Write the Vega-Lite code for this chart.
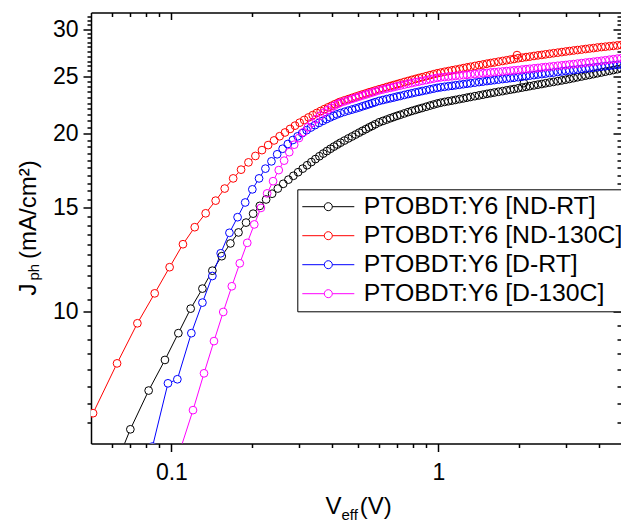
{
"$schema":"https://vega.github.io/schema/vega-lite/v6.json",
"width":530,"height":431,
"autosize":{"type":"none"},
"padding":{"left":91,"top":12.5,"right":0,"bottom":77},
"background":"white",
"config":{"font":"Liberation Sans","view":{"stroke":null},
 "axis":{"grid":false,"domainColor":"black","tickColor":"black","labelColor":"black","titleColor":"black","domainWidth":1.5,"tickWidth":1.5,"labelFontSize":23,"titleFontSize":24,"titleFontWeight":"normal","labelFont":"Liberation Sans","titleFont":"Liberation Sans"}},
"data":{"values":[
{"s":"ND-RT","v":0.0582,"j":5.15},{"s":"ND-RT","v":0.0702,"j":6.34},{"s":"ND-RT","v":0.0822,"j":7.37},{"s":"ND-RT","v":0.0946,"j":8.3},{"s":"ND-RT","v":0.1062,"j":9.21},{"s":"ND-RT","v":0.1181,"j":10.13},{"s":"ND-RT","v":0.1307,"j":10.95},{"s":"ND-RT","v":0.1424,"j":11.74},{"s":"ND-RT","v":0.1544,"j":12.42},{"s":"ND-RT","v":0.1664,"j":13.05},{"s":"ND-RT","v":0.1784,"j":13.62},{"s":"ND-RT","v":0.1904,"j":14.15},{"s":"ND-RT","v":0.2024,"j":14.65},{"s":"ND-RT","v":0.2144,"j":15.1},{"s":"ND-RT","v":0.2264,"j":15.48},{"s":"ND-RT","v":0.2384,"j":15.83},{"s":"ND-RT","v":0.2504,"j":16.15},{"s":"ND-RT","v":0.2624,"j":16.45},{"s":"ND-RT","v":0.2744,"j":16.72},{"s":"ND-RT","v":0.2864,"j":16.97},{"s":"ND-RT","v":0.2984,"j":17.21},{"s":"ND-RT","v":0.3104,"j":17.45},{"s":"ND-RT","v":0.3224,"j":17.68},{"s":"ND-RT","v":0.3344,"j":17.9},{"s":"ND-RT","v":0.3464,"j":18.11},{"s":"ND-RT","v":0.3584,"j":18.31},{"s":"ND-RT","v":0.3704,"j":18.5},{"s":"ND-RT","v":0.3824,"j":18.68},{"s":"ND-RT","v":0.3944,"j":18.85},{"s":"ND-RT","v":0.4064,"j":19.01},{"s":"ND-RT","v":0.4184,"j":19.16},
{"s":"ND-RT","v":0.43,"j":19.3},{"s":"ND-RT","v":0.445,"j":19.46},{"s":"ND-RT","v":0.46,"j":19.62},{"s":"ND-RT","v":0.475,"j":19.77},{"s":"ND-RT","v":0.49,"j":19.92},{"s":"ND-RT","v":0.505,"j":20.07},{"s":"ND-RT","v":0.52,"j":20.21},{"s":"ND-RT","v":0.535,"j":20.34},{"s":"ND-RT","v":0.55,"j":20.48},{"s":"ND-RT","v":0.565,"j":20.6},{"s":"ND-RT","v":0.58,"j":20.73},{"s":"ND-RT","v":0.6,"j":20.89},{"s":"ND-RT","v":0.62,"j":21.0},{"s":"ND-RT","v":0.64,"j":21.11},{"s":"ND-RT","v":0.66,"j":21.22},{"s":"ND-RT","v":0.68,"j":21.32},{"s":"ND-RT","v":0.7,"j":21.42},{"s":"ND-RT","v":0.72,"j":21.51},{"s":"ND-RT","v":0.745,"j":21.62},{"s":"ND-RT","v":0.77,"j":21.73},{"s":"ND-RT","v":0.795,"j":21.83},{"s":"ND-RT","v":0.82,"j":21.92},{"s":"ND-RT","v":0.845,"j":22.01},{"s":"ND-RT","v":0.87,"j":22.09},{"s":"ND-RT","v":0.9,"j":22.19},{"s":"ND-RT","v":0.93,"j":22.29},{"s":"ND-RT","v":0.96,"j":22.38},{"s":"ND-RT","v":0.99,"j":22.47},{"s":"ND-RT","v":1.02,"j":22.54},{"s":"ND-RT","v":1.055,"j":22.61},{"s":"ND-RT","v":1.09,"j":22.67},{"s":"ND-RT","v":1.125,"j":22.73},{"s":"ND-RT","v":1.16,"j":22.79},{"s":"ND-RT","v":1.2,"j":22.86},{"s":"ND-RT","v":1.24,"j":22.92},{"s":"ND-RT","v":1.28,"j":22.99},{"s":"ND-RT","v":1.32,"j":23.05},{"s":"ND-RT","v":1.37,"j":23.12},{"s":"ND-RT","v":1.42,"j":23.19},{"s":"ND-RT","v":1.47,"j":23.26},{"s":"ND-RT","v":1.52,"j":23.33},{"s":"ND-RT","v":1.57,"j":23.39},{"s":"ND-RT","v":1.62,"j":23.45},{"s":"ND-RT","v":1.68,"j":23.52},{"s":"ND-RT","v":1.74,"j":23.58},{"s":"ND-RT","v":1.8,"j":23.65},{"s":"ND-RT","v":1.86,"j":23.71},{"s":"ND-RT","v":1.92,"j":23.77},{"s":"ND-RT","v":1.99,"j":23.84},{"s":"ND-RT","v":2.06,"j":23.91},{"s":"ND-RT","v":2.09,"j":24.32},{"s":"ND-RT","v":2.13,"j":23.97},{"s":"ND-RT","v":2.2,"j":24.04},{"s":"ND-RT","v":2.28,"j":24.11},{"s":"ND-RT","v":2.36,"j":24.18},{"s":"ND-RT","v":2.44,"j":24.24},{"s":"ND-RT","v":2.52,"j":24.31},{"s":"ND-RT","v":2.61,"j":24.38},{"s":"ND-RT","v":2.7,"j":24.44},{"s":"ND-RT","v":2.8,"j":24.51},{"s":"ND-RT","v":2.9,"j":24.58},{"s":"ND-RT","v":3.0,"j":24.65},{"s":"ND-RT","v":3.1,"j":24.72},{"s":"ND-RT","v":3.21,"j":24.8},{"s":"ND-RT","v":3.32,"j":24.88},{"s":"ND-RT","v":3.44,"j":24.96},{"s":"ND-RT","v":3.56,"j":25.04},{"s":"ND-RT","v":3.68,"j":25.11},{"s":"ND-RT","v":3.81,"j":25.19},{"s":"ND-RT","v":3.94,"j":25.27},{"s":"ND-RT","v":4.08,"j":25.35},{"s":"ND-RT","v":4.22,"j":25.43},{"s":"ND-RT","v":4.37,"j":25.51},{"s":"ND-RT","v":4.52,"j":25.59},{"s":"ND-RT","v":4.68,"j":25.67},{"s":"ND-RT","v":4.84,"j":25.75},
{"s":"ND-130C","v":0.0389,"j":5.25},{"s":"ND-130C","v":0.0509,"j":6.75},{"s":"ND-130C","v":0.0626,"j":8.19},{"s":"ND-130C","v":0.0746,"j":9.57},{"s":"ND-130C","v":0.0866,"j":10.75},{"s":"ND-130C","v":0.0985,"j":11.9},{"s":"ND-130C","v":0.1105,"j":13.01},{"s":"ND-130C","v":0.1223,"j":13.9},{"s":"ND-130C","v":0.1344,"j":14.67},{"s":"ND-130C","v":0.1465,"j":15.41},{"s":"ND-130C","v":0.1584,"j":16.15},{"s":"ND-130C","v":0.1704,"j":16.8},{"s":"ND-130C","v":0.1824,"j":17.38},{"s":"ND-130C","v":0.1944,"j":17.88},{"s":"ND-130C","v":0.2064,"j":18.33},{"s":"ND-130C","v":0.2184,"j":18.75},{"s":"ND-130C","v":0.2304,"j":19.12},{"s":"ND-130C","v":0.2424,"j":19.47},{"s":"ND-130C","v":0.2544,"j":19.79},{"s":"ND-130C","v":0.2664,"j":20.08},{"s":"ND-130C","v":0.2784,"j":20.36},{"s":"ND-130C","v":0.2904,"j":20.62},{"s":"ND-130C","v":0.3024,"j":20.86},{"s":"ND-130C","v":0.3144,"j":21.08},{"s":"ND-130C","v":0.3264,"j":21.29},{"s":"ND-130C","v":0.3384,"j":21.48},{"s":"ND-130C","v":0.3504,"j":21.66},{"s":"ND-130C","v":0.3624,"j":21.83},{"s":"ND-130C","v":0.3744,"j":21.99},{"s":"ND-130C","v":0.3864,"j":22.14},{"s":"ND-130C","v":0.3984,"j":22.28},{"s":"ND-130C","v":0.4104,"j":22.42},{"s":"ND-130C","v":0.4224,"j":22.55},
{"s":"ND-130C","v":0.43,"j":22.63},{"s":"ND-130C","v":0.445,"j":22.75},{"s":"ND-130C","v":0.46,"j":22.86},{"s":"ND-130C","v":0.475,"j":22.97},{"s":"ND-130C","v":0.49,"j":23.08},{"s":"ND-130C","v":0.505,"j":23.18},{"s":"ND-130C","v":0.52,"j":23.28},{"s":"ND-130C","v":0.535,"j":23.37},{"s":"ND-130C","v":0.55,"j":23.47},{"s":"ND-130C","v":0.565,"j":23.55},{"s":"ND-130C","v":0.58,"j":23.64},{"s":"ND-130C","v":0.6,"j":23.75},{"s":"ND-130C","v":0.62,"j":23.85},{"s":"ND-130C","v":0.64,"j":23.95},{"s":"ND-130C","v":0.66,"j":24.05},{"s":"ND-130C","v":0.68,"j":24.14},{"s":"ND-130C","v":0.7,"j":24.23},{"s":"ND-130C","v":0.72,"j":24.32},{"s":"ND-130C","v":0.745,"j":24.43},{"s":"ND-130C","v":0.77,"j":24.53},{"s":"ND-130C","v":0.795,"j":24.63},{"s":"ND-130C","v":0.82,"j":24.72},{"s":"ND-130C","v":0.845,"j":24.81},{"s":"ND-130C","v":0.87,"j":24.89},{"s":"ND-130C","v":0.9,"j":24.99},{"s":"ND-130C","v":0.93,"j":25.09},{"s":"ND-130C","v":0.96,"j":25.18},{"s":"ND-130C","v":0.99,"j":25.27},{"s":"ND-130C","v":1.02,"j":25.34},{"s":"ND-130C","v":1.055,"j":25.42},{"s":"ND-130C","v":1.09,"j":25.49},{"s":"ND-130C","v":1.125,"j":25.56},{"s":"ND-130C","v":1.16,"j":25.63},{"s":"ND-130C","v":1.2,"j":25.7},{"s":"ND-130C","v":1.24,"j":25.78},{"s":"ND-130C","v":1.28,"j":25.85},{"s":"ND-130C","v":1.32,"j":25.92},{"s":"ND-130C","v":1.37,"j":26.0},{"s":"ND-130C","v":1.42,"j":26.08},{"s":"ND-130C","v":1.47,"j":26.15},{"s":"ND-130C","v":1.52,"j":26.23},{"s":"ND-130C","v":1.57,"j":26.3},{"s":"ND-130C","v":1.62,"j":26.36},{"s":"ND-130C","v":1.68,"j":26.44},{"s":"ND-130C","v":1.74,"j":26.51},{"s":"ND-130C","v":1.8,"j":26.58},{"s":"ND-130C","v":1.86,"j":26.65},{"s":"ND-130C","v":1.92,"j":26.71},{"s":"ND-130C","v":1.97,"j":27.12},{"s":"ND-130C","v":1.99,"j":26.79},{"s":"ND-130C","v":2.06,"j":26.85},{"s":"ND-130C","v":2.13,"j":26.91},{"s":"ND-130C","v":2.2,"j":26.96},{"s":"ND-130C","v":2.28,"j":27.03},{"s":"ND-130C","v":2.36,"j":27.09},{"s":"ND-130C","v":2.44,"j":27.14},{"s":"ND-130C","v":2.52,"j":27.2},{"s":"ND-130C","v":2.61,"j":27.26},{"s":"ND-130C","v":2.7,"j":27.32},{"s":"ND-130C","v":2.8,"j":27.38},{"s":"ND-130C","v":2.9,"j":27.44},{"s":"ND-130C","v":3.0,"j":27.5},{"s":"ND-130C","v":3.1,"j":27.55},{"s":"ND-130C","v":3.21,"j":27.61},{"s":"ND-130C","v":3.32,"j":27.66},{"s":"ND-130C","v":3.44,"j":27.71},{"s":"ND-130C","v":3.56,"j":27.77},{"s":"ND-130C","v":3.68,"j":27.82},{"s":"ND-130C","v":3.81,"j":27.87},{"s":"ND-130C","v":3.94,"j":27.93},{"s":"ND-130C","v":4.08,"j":27.98},{"s":"ND-130C","v":4.22,"j":28.02},{"s":"ND-130C","v":4.37,"j":28.07},{"s":"ND-130C","v":4.52,"j":28.11},{"s":"ND-130C","v":4.68,"j":28.16},{"s":"ND-130C","v":4.84,"j":28.2},
{"s":"D-RT","v":0.085,"j":5.93},{"s":"D-RT","v":0.0971,"j":7.58},{"s":"D-RT","v":0.1053,"j":7.7},{"s":"D-RT","v":0.1188,"j":9.21},{"s":"D-RT","v":0.1307,"j":10.37},{"s":"D-RT","v":0.1424,"j":11.5},{"s":"D-RT","v":0.153,"j":12.56},{"s":"D-RT","v":0.165,"j":13.6},{"s":"D-RT","v":0.177,"j":14.45},{"s":"D-RT","v":0.189,"j":15.3},{"s":"D-RT","v":0.201,"j":16.1},{"s":"D-RT","v":0.213,"j":16.8},{"s":"D-RT","v":0.225,"j":17.45},{"s":"D-RT","v":0.237,"j":17.95},{"s":"D-RT","v":0.249,"j":18.45},{"s":"D-RT","v":0.261,"j":18.85},{"s":"D-RT","v":0.273,"j":19.2},{"s":"D-RT","v":0.285,"j":19.5},{"s":"D-RT","v":0.297,"j":19.78},{"s":"D-RT","v":0.309,"j":20.03},{"s":"D-RT","v":0.321,"j":20.26},{"s":"D-RT","v":0.333,"j":20.47},{"s":"D-RT","v":0.345,"j":20.66},{"s":"D-RT","v":0.357,"j":20.84},{"s":"D-RT","v":0.369,"j":21.0},{"s":"D-RT","v":0.381,"j":21.15},{"s":"D-RT","v":0.393,"j":21.29},{"s":"D-RT","v":0.405,"j":21.42},{"s":"D-RT","v":0.417,"j":21.54},
{"s":"D-RT","v":0.43,"j":21.65},{"s":"D-RT","v":0.445,"j":21.76},{"s":"D-RT","v":0.46,"j":21.86},{"s":"D-RT","v":0.475,"j":21.95},{"s":"D-RT","v":0.49,"j":22.04},{"s":"D-RT","v":0.505,"j":22.13},{"s":"D-RT","v":0.52,"j":22.23},{"s":"D-RT","v":0.535,"j":22.32},{"s":"D-RT","v":0.55,"j":22.41},{"s":"D-RT","v":0.565,"j":22.5},{"s":"D-RT","v":0.58,"j":22.59},{"s":"D-RT","v":0.6,"j":22.7},{"s":"D-RT","v":0.62,"j":22.78},{"s":"D-RT","v":0.64,"j":22.86},{"s":"D-RT","v":0.66,"j":22.93},{"s":"D-RT","v":0.68,"j":23.0},{"s":"D-RT","v":0.7,"j":23.08},{"s":"D-RT","v":0.72,"j":23.14},{"s":"D-RT","v":0.745,"j":23.23},{"s":"D-RT","v":0.77,"j":23.31},{"s":"D-RT","v":0.795,"j":23.38},{"s":"D-RT","v":0.82,"j":23.46},{"s":"D-RT","v":0.845,"j":23.52},{"s":"D-RT","v":0.87,"j":23.59},{"s":"D-RT","v":0.9,"j":23.66},{"s":"D-RT","v":0.93,"j":23.74},{"s":"D-RT","v":0.96,"j":23.81},{"s":"D-RT","v":0.99,"j":23.88},{"s":"D-RT","v":1.02,"j":23.93},{"s":"D-RT","v":1.055,"j":23.98},{"s":"D-RT","v":1.09,"j":24.03},{"s":"D-RT","v":1.125,"j":24.07},{"s":"D-RT","v":1.16,"j":24.12},{"s":"D-RT","v":1.2,"j":24.17},{"s":"D-RT","v":1.24,"j":24.22},{"s":"D-RT","v":1.28,"j":24.27},{"s":"D-RT","v":1.32,"j":24.31},{"s":"D-RT","v":1.37,"j":24.37},{"s":"D-RT","v":1.42,"j":24.42},{"s":"D-RT","v":1.47,"j":24.47},{"s":"D-RT","v":1.52,"j":24.52},{"s":"D-RT","v":1.57,"j":24.56},{"s":"D-RT","v":1.62,"j":24.61},{"s":"D-RT","v":1.68,"j":24.66},{"s":"D-RT","v":1.74,"j":24.71},{"s":"D-RT","v":1.8,"j":24.75},{"s":"D-RT","v":1.86,"j":24.8},{"s":"D-RT","v":1.92,"j":24.84},{"s":"D-RT","v":1.99,"j":24.89},{"s":"D-RT","v":2.06,"j":24.94},{"s":"D-RT","v":2.13,"j":24.99},{"s":"D-RT","v":2.2,"j":25.04},{"s":"D-RT","v":2.28,"j":25.09},{"s":"D-RT","v":2.36,"j":25.15},{"s":"D-RT","v":2.44,"j":25.19},{"s":"D-RT","v":2.52,"j":25.24},{"s":"D-RT","v":2.61,"j":25.29},{"s":"D-RT","v":2.7,"j":25.34},{"s":"D-RT","v":2.8,"j":25.4},{"s":"D-RT","v":2.9,"j":25.45},{"s":"D-RT","v":3.0,"j":25.5},{"s":"D-RT","v":3.1,"j":25.55},{"s":"D-RT","v":3.21,"j":25.59},{"s":"D-RT","v":3.32,"j":25.64},{"s":"D-RT","v":3.44,"j":25.69},{"s":"D-RT","v":3.56,"j":25.74},{"s":"D-RT","v":3.68,"j":25.78},{"s":"D-RT","v":3.81,"j":25.83},{"s":"D-RT","v":3.94,"j":25.88},{"s":"D-RT","v":4.08,"j":25.93},{"s":"D-RT","v":4.22,"j":25.97},{"s":"D-RT","v":4.37,"j":26.02},{"s":"D-RT","v":4.52,"j":26.06},{"s":"D-RT","v":4.68,"j":26.11},{"s":"D-RT","v":4.84,"j":26.15},
{"s":"D-130C","v":0.108,"j":5.86},{"s":"D-130C","v":0.1205,"j":6.83},{"s":"D-130C","v":0.1325,"j":7.88},{"s":"D-130C","v":0.1444,"j":8.93},{"s":"D-130C","v":0.1564,"j":10.0},{"s":"D-130C","v":0.1684,"j":11.05},{"s":"D-130C","v":0.1804,"j":12.08},{"s":"D-130C","v":0.1924,"j":13.08},{"s":"D-130C","v":0.2044,"j":14.05},{"s":"D-130C","v":0.2164,"j":14.98},{"s":"D-130C","v":0.2284,"j":15.85},{"s":"D-130C","v":0.2404,"j":16.62},{"s":"D-130C","v":0.2524,"j":17.35},{"s":"D-130C","v":0.2644,"j":18.0},{"s":"D-130C","v":0.2764,"j":18.6},{"s":"D-130C","v":0.2884,"j":19.15},{"s":"D-130C","v":0.3004,"j":19.65},{"s":"D-130C","v":0.3124,"j":20.1},{"s":"D-130C","v":0.3244,"j":20.5},{"s":"D-130C","v":0.3364,"j":20.85},{"s":"D-130C","v":0.3484,"j":21.15},{"s":"D-130C","v":0.3604,"j":21.43},{"s":"D-130C","v":0.3724,"j":21.68},{"s":"D-130C","v":0.3844,"j":21.9},{"s":"D-130C","v":0.3964,"j":22.1},{"s":"D-130C","v":0.4084,"j":22.28},{"s":"D-130C","v":0.4204,"j":22.44},
{"s":"D-130C","v":0.43,"j":22.55},{"s":"D-130C","v":0.445,"j":22.66},{"s":"D-130C","v":0.46,"j":22.77},{"s":"D-130C","v":0.475,"j":22.88},{"s":"D-130C","v":0.49,"j":22.98},{"s":"D-130C","v":0.505,"j":23.08},{"s":"D-130C","v":0.52,"j":23.18},{"s":"D-130C","v":0.535,"j":23.27},{"s":"D-130C","v":0.55,"j":23.36},{"s":"D-130C","v":0.565,"j":23.45},{"s":"D-130C","v":0.58,"j":23.54},{"s":"D-130C","v":0.6,"j":23.65},{"s":"D-130C","v":0.62,"j":23.73},{"s":"D-130C","v":0.64,"j":23.81},{"s":"D-130C","v":0.66,"j":23.88},{"s":"D-130C","v":0.68,"j":23.95},{"s":"D-130C","v":0.7,"j":24.03},{"s":"D-130C","v":0.72,"j":24.09},{"s":"D-130C","v":0.745,"j":24.18},{"s":"D-130C","v":0.77,"j":24.26},{"s":"D-130C","v":0.795,"j":24.33},{"s":"D-130C","v":0.82,"j":24.41},{"s":"D-130C","v":0.845,"j":24.47},{"s":"D-130C","v":0.87,"j":24.54},{"s":"D-130C","v":0.9,"j":24.61},{"s":"D-130C","v":0.93,"j":24.69},{"s":"D-130C","v":0.96,"j":24.76},{"s":"D-130C","v":0.99,"j":24.83},{"s":"D-130C","v":1.02,"j":24.87},{"s":"D-130C","v":1.055,"j":24.91},{"s":"D-130C","v":1.09,"j":24.95},{"s":"D-130C","v":1.125,"j":24.98},{"s":"D-130C","v":1.16,"j":25.02},{"s":"D-130C","v":1.2,"j":25.05},{"s":"D-130C","v":1.24,"j":25.09},{"s":"D-130C","v":1.28,"j":25.12},{"s":"D-130C","v":1.32,"j":25.16},{"s":"D-130C","v":1.37,"j":25.2},{"s":"D-130C","v":1.42,"j":25.24},{"s":"D-130C","v":1.47,"j":25.28},{"s":"D-130C","v":1.52,"j":25.31},{"s":"D-130C","v":1.57,"j":25.35},{"s":"D-130C","v":1.62,"j":25.38},{"s":"D-130C","v":1.68,"j":25.42},{"s":"D-130C","v":1.74,"j":25.45},{"s":"D-130C","v":1.8,"j":25.49},{"s":"D-130C","v":1.86,"j":25.52},{"s":"D-130C","v":1.92,"j":25.56},{"s":"D-130C","v":1.99,"j":25.59},{"s":"D-130C","v":2.06,"j":25.64},{"s":"D-130C","v":2.13,"j":25.68},{"s":"D-130C","v":2.2,"j":25.72},{"s":"D-130C","v":2.28,"j":25.76},{"s":"D-130C","v":2.36,"j":25.8},{"s":"D-130C","v":2.44,"j":25.85},{"s":"D-130C","v":2.52,"j":25.89},{"s":"D-130C","v":2.61,"j":25.93},{"s":"D-130C","v":2.7,"j":25.97},{"s":"D-130C","v":2.8,"j":26.02},{"s":"D-130C","v":2.9,"j":26.06},{"s":"D-130C","v":3.0,"j":26.1},{"s":"D-130C","v":3.1,"j":26.15},{"s":"D-130C","v":3.21,"j":26.19},{"s":"D-130C","v":3.32,"j":26.24},{"s":"D-130C","v":3.44,"j":26.29},{"s":"D-130C","v":3.56,"j":26.34},{"s":"D-130C","v":3.68,"j":26.38},{"s":"D-130C","v":3.81,"j":26.43},{"s":"D-130C","v":3.94,"j":26.48},{"s":"D-130C","v":4.08,"j":26.53},{"s":"D-130C","v":4.22,"j":26.58},{"s":"D-130C","v":4.37,"j":26.64},{"s":"D-130C","v":4.52,"j":26.69},{"s":"D-130C","v":4.68,"j":26.75},{"s":"D-130C","v":4.84,"j":26.8}
]},
"encoding":{
 "color":{"field":"s","type":"nominal",
  "scale":{"domain":["ND-RT","ND-130C","D-RT","D-130C"],"range":["#000000","#ff0000","#0000ff","#ff00ff"]},
  "legend":{"title":null,"orient":"none","legendX":206.3,"legendY":176.8,
   "labelExpr":"'PTOBDT:Y6 [' + datum.label + ']'","labelFontSize":24.8,"labelFont":"Liberation Sans","labelColor":"black","labelLimit":0,
   "symbolType":"M-6.5,0H-1M1,0H6.5M1,0A1,1,0,1,1,-1,0A1,1,0,1,1,1,0","symbolSize":64,"symbolStrokeWidth":1,"symbolFillColor":"white",
   "symbolOffset":13.6,"labelOffset":23,"rowPadding":3,"padding":5,
   "strokeColor":"black","fillColor":"white"}}
},
"layer":[
 {"mark":{"type":"line","strokeWidth":1,"clip":true},
  "encoding":{
   "x":{"field":"v","type":"quantitative","scale":{"type":"log","domain":[0.05,4.83],"nice":false},
     "axis":{"orient":"bottom","values":[0.1,1],"format":"~g","tickSize":8,"labelPadding":10,"title":"V","titleX":234,"titleY":69.5,"titleAlign":"left","titleBaseline":"alphabetic","titleAngle":0}},
   "y":{"field":"j","type":"quantitative","scale":{"type":"log","domain":[6,32],"nice":false},
     "axis":{"orient":"left","values":[10,15,20,25,30],"format":"~g","tickSize":8,"labelPadding":5,"title":"J","titleX":-56,"titleY":282.5,"titleAlign":"left","titleBaseline":"alphabetic","titleAngle":270}}}},
 {"mark":{"type":"point","shape":"circle","size":60,"filled":false,"fill":"white","strokeOpacity":0,"opacity":1,"clip":true},
  "encoding":{
   "x":{"field":"v","type":"quantitative","scale":{"type":"log","domain":[0.05,4.83],"nice":false},"axis":null},
   "y":{"field":"j","type":"quantitative","scale":{"type":"log","domain":[6,32],"nice":false},"axis":null}}},
 {"mark":{"type":"point","shape":"circle","size":60,"filled":false,"strokeWidth":1,"opacity":1,"clip":true},
  "encoding":{
   "x":{"field":"v","type":"quantitative","scale":{"type":"log","domain":[0.05,4.83],"nice":false},
     "axis":{"orient":"bottom","values":[0.06,0.07,0.08,0.09,0.2,0.3,0.4,0.5,0.6,0.7,0.8,0.9,2,3,4],"tickSize":4,"labels":false,"domain":false,"title":"eff","titleFontSize":15,"titleX":250,"titleY":75.5,"titleAlign":"left","titleBaseline":"alphabetic","titleAngle":0}},
   "y":{"field":"j","type":"quantitative","scale":{"type":"log","domain":[6,32],"nice":false},
     "axis":{"orient":"left","values":[6.5,7,7.5,8,8.5,9,9.5,10.5,11,11.5,12,12.5,13,13.5,14,14.5,15.5,16,16.5,17,17.5,18,18.5,19,19.5,20.5,21,21.5,22,22.5,23,23.5,24,24.5,25.5,26,26.5,27,27.5,28,28.5,29,29.5,30.5,31,31.5],"tickSize":4,"labels":false,"domain":false,"title":"ph","titleFontSize":15,"titleX":-52.3,"titleY":267.5,"titleAlign":"left","titleBaseline":"alphabetic","titleAngle":270}}}},
 {"data":{"values":[]},"mark":{"type":"point"},
  "encoding":{
   "x":{"field":"v","type":"quantitative","scale":{"type":"log","domain":[0.05,4.83],"nice":false},
     "axis":{"orient":"top","values":[0.1,1],"tickSize":-7,"labels":false,"title":"(V)","titleX":268.3,"titleY":500.5,"titleAlign":"left","titleBaseline":"alphabetic","titleAngle":0}},
   "y":{"field":"j","type":"quantitative","scale":{"type":"log","domain":[6,32],"nice":false},
     "axis":{"orient":"right","values":[10,15,20,25,30],"tickSize":-8,"labels":false,"domain":false,"title":"(mA/cm²)","titleX":-586,"titleY":246,"titleAlign":"left","titleBaseline":"alphabetic","titleAngle":270}}}},
 {"data":{"values":[]},"mark":{"type":"point"},
  "encoding":{
   "x":{"field":"v","type":"quantitative","scale":{"type":"log","domain":[0.05,4.83],"nice":false},
     "axis":{"orient":"top","values":[0.06,0.07,0.08,0.09,0.2,0.3,0.4,0.5,0.6,0.7,0.8,0.9,2,3,4],"tickSize":-4,"labels":false,"domain":false,"title":null}},
   "y":{"field":"j","type":"quantitative","scale":{"type":"log","domain":[6,32],"nice":false},
     "axis":{"orient":"right","values":[6.5,7,7.5,8,8.5,9,9.5,10.5,11,11.5,12,12.5,13,13.5,14,14.5,15.5,16,16.5,17,17.5,18,18.5,19,19.5,20.5,21,21.5,22,22.5,23,23.5,24,24.5,25.5,26,26.5,27,27.5,28,28.5,29,29.5,30.5,31,31.5],"tickSize":-4,"labels":false,"domain":false,"title":null}}}}
],
"resolve":{"axis":{"x":"independent","y":"independent"}}
}
